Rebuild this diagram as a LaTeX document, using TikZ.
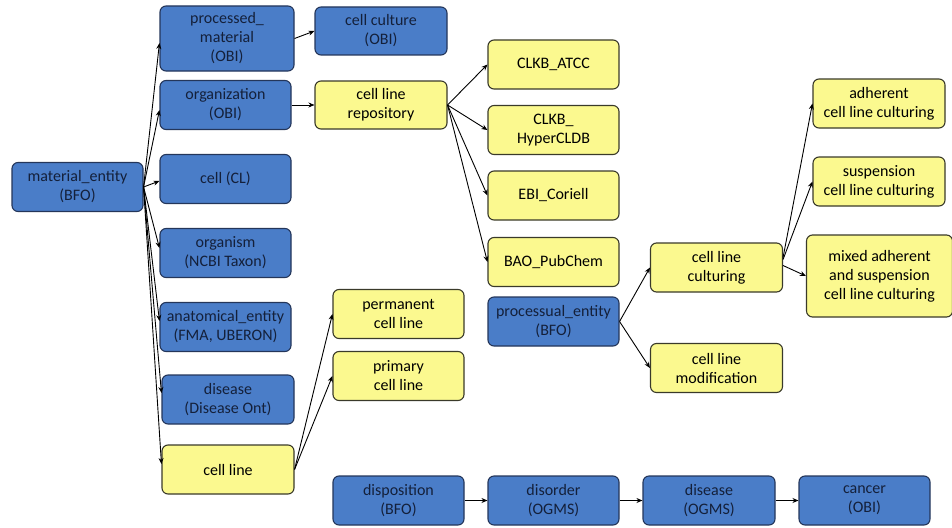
\documentclass[tikz,border=0pt]{standalone}
\usepackage{fontspec}
\setmainfont{Carlito}
\usetikzlibrary{arrows.meta}
\definecolor{bfill}{HTML}{4A7DC8}
\definecolor{bdraw}{HTML}{24365A}
\definecolor{btext}{HTML}{14203A}
\definecolor{yfill}{HTML}{FBF98F}
\definecolor{ydraw}{HTML}{3A3A2A}
\begin{document}
\begin{tikzpicture}[x=1pt,y=-1pt,
  box/.style={draw, line width=1.1pt, rounded corners=6pt, align=center, inner sep=0pt,
    font=\fontsize{16}{19}\selectfont, minimum width=131pt, minimum height=49pt},
  bluebox/.style={box, fill=bfill, draw=bdraw, text=btext},
  yelbox/.style={box, fill=yfill, draw=ydraw, text=black},
  arr/.style={-{Stealth[length=6pt,width=5pt]}, line width=0.9pt, black}]
\useasboundingbox (0,0) rectangle (952,527);
% left column
\node[bluebox] (me) at (77.5,187) {material\_entity\\(BFO)};
\node[bluebox, minimum width=134pt, minimum height=65pt] (pm) at (227,38.5) {processed\_\\material\\(OBI)};
\node[bluebox] (org) at (225.5,105) {organization\\(OBI)};
\node[bluebox] (cell) at (225.5,179) {cell (CL)};
\node[bluebox] (orgm) at (225.5,253) {organism\\(NCBI Taxon)};
\node[bluebox] (anat) at (225.5,327) {anatomical\_entity\\(FMA, UBERON)};
\node[bluebox, minimum width=132pt] (dis) at (228,399.5) {disease\\(Disease Ont)};
\node[yelbox, minimum width=132pt] (cl) at (228,469.5) {cell line};
% second column
\node[bluebox, minimum width=132pt, minimum height=48pt] (cc) at (381,31) {cell culture\\(OBI)};
\node[yelbox, minimum width=132pt, minimum height=48pt] (clr) at (381,105) {cell line\\repository};
\node[yelbox] (perm) at (398.5,314) {permanent\\cell line};
\node[yelbox] (prim) at (398.5,376) {primary\\cell line};
\node[bluebox] (dispo) at (398.5,500.5) {disposition\\(BFO)};
% third column
\node[yelbox] (atcc) at (553.5,64.5) {CLKB\_ATCC};
\node[yelbox] (hyper) at (553.5,130) {CLKB\_\\HyperCLDB};
\node[yelbox] (cori) at (553.5,195.5) {EBI\_Coriell};
\node[yelbox] (pub) at (553.5,262) {BAO\_PubChem};
\node[bluebox] (proc) at (553.5,321.5) {processual\_entity\\(BFO)};
\node[bluebox] (disord) at (553.5,500.5) {disorder\\(OGMS)};
% fourth column
\node[yelbox, minimum width=132pt] (clc) at (716.5,267.5) {cell line\\culturing};
\node[yelbox, minimum width=132pt] (mod) at (716.5,368) {cell line\\modification};
\node[bluebox, minimum width=132pt] (dis2) at (709,500.5) {disease\\(OGMS)};
% fifth column
\node[yelbox, minimum width=132pt] (adh) at (879,103.5) {adherent\\cell line culturing};
\node[yelbox, minimum width=132pt] (susp) at (879,181.5) {suspension\\cell line culturing};
\node[yelbox, minimum width=146pt, minimum height=82pt] (mix) at (879.5,276) {mixed adherent\\and suspension\\cell line culturing};
\node[bluebox] (cancer) at (864.5,500.5) {cancer\\(OBI)};
% connectors
\draw[arr] (me.east) -- ([yshift=-4.5pt]pm.west);
\draw[arr] (me.east) -- ([yshift=-5pt]org.west);
\draw[arr] (me.east) -- ([yshift=-2pt]cell.west);
\draw[arr] (me.east) -- ([yshift=5pt]orgm.west);
\draw[arr] (me.east) -- ([yshift=6pt]anat.west);
\draw[arr] (me.east) -- ([yshift=6.5pt]dis.west);
\draw[arr] (me.east) -- ([yshift=5.5pt]cl.west);
\draw[arr] (pm.east) -- (cc.west);
\draw[arr] (org.east) -- (clr.west);
\draw[arr] (clr.east) -- (atcc.west);
\draw[arr] (clr.east) -- (hyper.west);
\draw[arr] (clr.east) -- (cori.west);
\draw[arr] (clr.east) -- (pub.west);
\draw[arr] (cl.east) -- (perm.west);
\draw[arr] (cl.east) -- (prim.west);
\draw[arr] (proc.east) -- (clc.west);
\draw[arr] (proc.east) -- (mod.west);
\draw[arr] ([yshift=10pt]clc.east) -- (adh.west);
\draw[arr] ([yshift=8pt]clc.east) -- (susp.west);
\draw[arr] ([yshift=2pt]clc.east) -- (mix.west);
\draw[arr] (dispo.east) -- (disord.west);
\draw[arr] (disord.east) -- (dis2.west);
\draw[arr] (dis2.east) -- (cancer.west);
\end{tikzpicture}
\end{document}
